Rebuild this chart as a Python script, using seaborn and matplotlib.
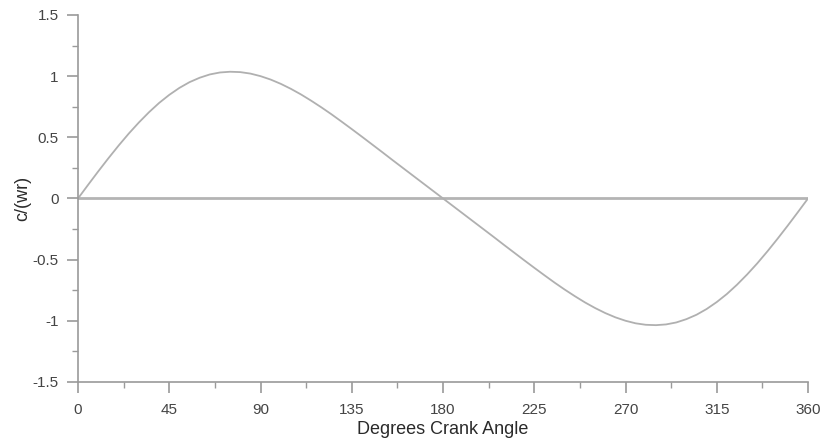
import matplotlib
matplotlib.use("Agg")
import matplotlib.pyplot as plt
from matplotlib.ticker import MultipleLocator
import seaborn as sns
import pandas as pd

# Crank angle (degrees), every 5 degrees, and piston velocity ratio
angle = list(range(0, 361, 5))
velocity = [0.0, 0.112, 0.222, 0.329, 0.432, 0.530, 0.621, 0.705, 0.781, 0.847, 0.904, 0.951,
            0.987, 1.014, 1.030, 1.036, 1.033, 1.021, 1.0, 0.972, 0.937, 0.896, 0.850, 0.799,
            0.745, 0.688, 0.628, 0.567, 0.505, 0.442, 0.379, 0.315, 0.252, 0.189, 0.126, 0.063,
            0.0,
            -0.063, -0.126, -0.189, -0.252, -0.315, -0.379, -0.442, -0.505, -0.567, -0.628,
            -0.688, -0.745, -0.799, -0.850, -0.896, -0.937, -0.972, -1.0, -1.021, -1.033,
            -1.036, -1.030, -1.014, -0.987, -0.951, -0.904, -0.847, -0.781, -0.705, -0.621,
            -0.530, -0.432, -0.329, -0.222, -0.112, 0.0]
zero_x = [0, 360]
zero_y = [0, 0]

xticks = [0, 45, 90, 135, 180, 225, 270, 315, 360]
yticks = [-1.5, -1, -0.5, 0, 0.5, 1, 1.5]
ytick_labels = ["-1.5", "-1", "-0.5", "0", "0.5", "1", "1.5"]

df = pd.DataFrame({"angle": angle, "velocity": velocity})

sns.set_style("ticks")
plt.rcParams["font.family"] = ["Liberation Sans", "DejaVu Sans"]

fig = plt.figure(figsize=(8.23, 4.41), dpi=100)
ax = fig.add_axes([0.0948, 0.134, 0.8870, 0.832])

axis_grey = "#9a9a9a"
sns.lineplot(x=zero_x, y=zero_y, ax=ax, color="#b4b4b4", linewidth=2.0)
sns.lineplot(data=df, x="angle", y="velocity", ax=ax, color="#b0b0b0", linewidth=1.3)

ax.set_xlim(0, 360)
ax.set_ylim(-1.5, 1.5)
ax.set_xticks(xticks)
ax.set_xticklabels([str(t) for t in xticks])
ax.set_yticks(yticks)
ax.set_yticklabels(ytick_labels)
ax.xaxis.set_minor_locator(MultipleLocator(22.5))
ax.yaxis.set_minor_locator(MultipleLocator(0.25))

for side in ["top", "right"]:
    ax.spines[side].set_visible(False)
for side in ["left", "bottom"]:
    ax.spines[side].set_color(axis_grey)
    ax.spines[side].set_linewidth(1.2)

ax.tick_params(which="major", direction="out", length=8, width=1.2, color=axis_grey,
               labelsize=11, labelcolor="#444444", pad=6)
ax.tick_params(axis="x", which="major", pad=7)
ax.tick_params(which="minor", direction="out", length=4, width=1.0, color=axis_grey)

ax.set_xlabel("Degrees Crank Angle", fontsize=13, color="#2a2a2a", labelpad=3)
ax.set_ylabel("c/(wr)", fontsize=13, color="#2a2a2a", labelpad=1)

fig.savefig("out.png", dpi=100)
